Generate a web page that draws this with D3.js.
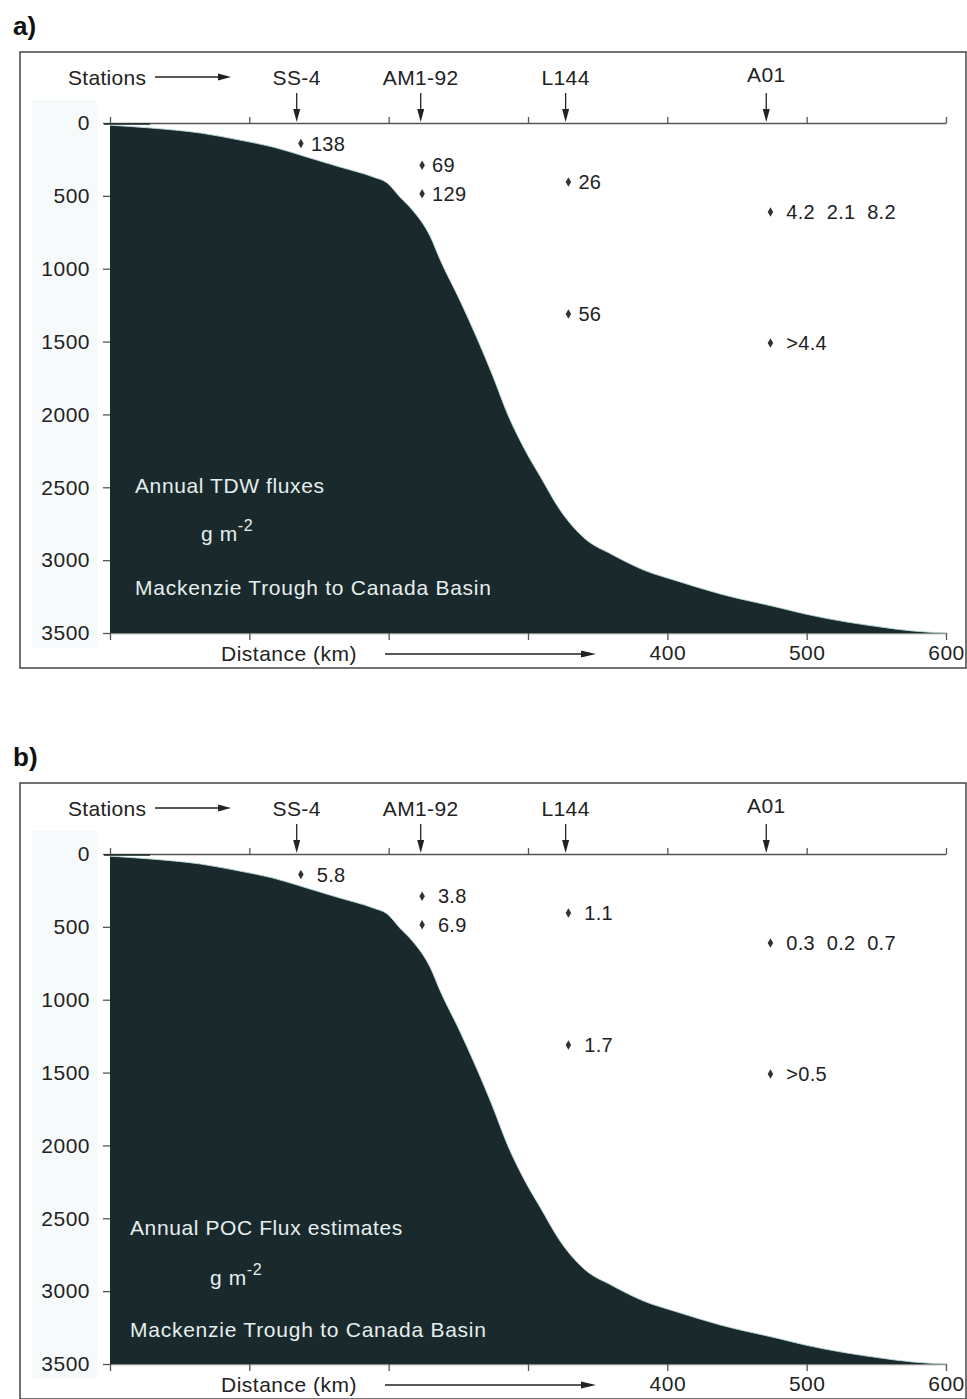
<!DOCTYPE html>
<html>
<head>
<meta charset="utf-8">
<script src="https://cdn.jsdelivr.net/npm/d3@7"></script>
<style>
  body { margin: 0; background: #fff; }
  svg { display: block; font-family: Arial, "Liberation Sans", sans-serif; }
  .pre { white-space: pre; }
</style>
</head>
<body>
<svg id="chart" width="967" height="1399"></svg>
<script>
// Bottom profile along the transect: distance (km) and water depth (m)
const profileKm    = [0, 29, 65, 93, 117, 141, 165, 189, 199, 208, 217, 230, 237, 251, 263, 275, 285, 299, 309, 323, 342, 359, 383, 407, 438, 481, 499, 529, 553, 576, 600];
const profileDepth = [15, 34, 69, 117, 165, 233, 302, 371, 412, 508, 597, 782, 940, 1215, 1469, 1743, 1990, 2265, 2429, 2656, 2862, 2955, 3068, 3143, 3232, 3328, 3370, 3425, 3459, 3486, 3500];

// Mooring stations along the section
const stationNames = ["SS-4", "AM1-92", "L144", "A01"];
const stationKm    = [134, 223, 327, 471];

// Sediment trap deployments: distance (km) and depth (m)
const sampleKm    = [137, 224, 224, 329, 329, 474, 474];
const sampleDepth = [140, 290, 485, 405, 1310, 610, 1510];

// Annual fluxes, g m-2
const tdwLabels = ["138", "69", "129", "26", "56", " 4.2  2.1  8.2", " >4.4"];
const pocLabels = [" 5.8", " 3.8", " 6.9", " 1.1", " 1.7", " 0.3  0.2  0.7", " >0.5"];

// Axis ticks
const depthTicks = [0, 500, 1000, 1500, 2000, 2500, 3000, 3500];
const distanceTicks = [0, 100, 200, 300, 400, 500, 600];
const distanceTickLabels = ["", "", "", "", "400", "500", "600"];

const svg = d3.select("#chart");
const x = d3.scaleLinear().domain([0, 600]).range([110, 946]);
const y = d3.scaleLinear().domain([0, 3500]).range([123, 633]);

const panels = [
  { tag: "a)", offset: 0, labels: tdwLabels, title: "Annual TDW fluxes",
    tx: 135, tyTitle: 493, tyUnit: 541, tyRegion: 595, unitX: 201 },
  { tag: "b)", offset: 731, labels: pocLabels, title: "Annual POC Flux estimates",
    tx: 130, tyTitle: 504, tyUnit: 554, tyRegion: 606, unitX: 210 }
];

const ink = "#222";
const axisGray = "#555";

function arrowHead(g, tipX, tipY, dir, len, half) {
  // dir: "right" or "down"
  const pts = dir === "right"
    ? [[tipX, tipY], [tipX - len, tipY - half], [tipX - len, tipY + half]]
    : [[tipX, tipY], [tipX - half, tipY - len], [tipX + half, tipY - len]];
  g.append("path").attr("d", d3.line()(pts) + "Z").attr("fill", ink);
}

panels.forEach(p => {
  const g = svg.append("g").attr("transform", `translate(0,${p.offset})`);

  // panel tag
  g.append("text").attr("x", 13).attr("y", 35)
    .attr("font-size", 26).attr("font-weight", "bold").attr("fill", "#111")
    .text(p.tag);

  // frame
  g.append("rect").attr("x", 20).attr("y", 52).attr("width", 946).attr("height", 616)
    .attr("fill", "#fff").attr("stroke", "#444").attr("stroke-width", 1.5);

  // faint band behind the depth labels
  g.append("rect").attr("x", 32).attr("y", 100).attr("width", 65).attr("height", 548)
    .attr("fill", "#f7fafa");

  // left axis (depth)
  const left = g.append("g").attr("transform", "translate(110,0)")
    .call(d3.axisLeft(y).tickValues(depthTicks).tickFormat(d3.format("d"))
      .tickSize(7).tickSizeOuter(0).tickPadding(13));
  left.select(".domain").remove();
  left.selectAll("line").attr("stroke", axisGray).attr("stroke-width", 1.3);
  left.selectAll("text").attr("font-size", 21).attr("fill", ink)
    .attr("font-family", "Arial, 'Liberation Sans', sans-serif").attr("letter-spacing", 0.5);

  // bottom axis (distance)
  const bottom = g.append("g").attr("transform", `translate(0,${y(3500)})`)
    .call(d3.axisBottom(x).tickValues(distanceTicks)
      .tickFormat((d, i) => distanceTickLabels[i])
      .tickSize(7).tickSizeOuter(0).tickPadding(5));
  bottom.select(".domain").attr("stroke", "#888").attr("stroke-width", 1.3);
  bottom.selectAll("line").attr("stroke", axisGray).attr("stroke-width", 1.3);
  bottom.selectAll("text").attr("font-size", 21).attr("fill", ink)
    .attr("font-family", "Arial, 'Liberation Sans', sans-serif").attr("letter-spacing", 0.5);

  // seafloor profile
  const pts = profileKm.map((k, i) => [k, profileDepth[i]]);
  const area = d3.area().x(d => x(d[0])).y0(y(3500)).y1(d => y(d[1])).curve(d3.curveMonotoneX);
  const edge = d3.line().x(d => x(d[0])).y(d => y(d[1])).curve(d3.curveMonotoneX);
  g.append("path").attr("d", area(pts)).attr("fill", "#1a292c");
  g.append("path").attr("d", edge(pts)).attr("fill", "none")
    .attr("stroke", "#b9d8d8").attr("stroke-width", 0.9);

  // top axis (stations)
  const top = g.append("g").attr("transform", `translate(0,${y(0)})`)
    .call(d3.axisTop(x).tickValues(distanceTicks).tickFormat("")
      .tickSize(6).tickSizeOuter(0));
  top.select(".domain").attr("stroke", axisGray).attr("stroke-width", 1.5);
  top.selectAll("line").attr("stroke", axisGray).attr("stroke-width", 1.3);
  g.append("line").attr("x1", 104).attr("x2", 150).attr("y1", y(0) + 1).attr("y2", y(0) + 1)
    .attr("stroke", "#1a292c").attr("stroke-width", 1.5);

  // "Stations" caption with arrow
  g.append("text").attr("x", 68).attr("y", 85).attr("font-size", 21)
    .attr("letter-spacing", 0.3).attr("fill", ink).text("Stations");
  g.append("line").attr("x1", 155).attr("x2", 220).attr("y1", 77).attr("y2", 77)
    .attr("stroke", ink).attr("stroke-width", 1.3);
  arrowHead(g, 231, 77, "right", 13, 3.5);

  // station names and arrows
  stationNames.forEach((name, i) => {
    const sx = x(stationKm[i]);
    g.append("text").attr("x", sx).attr("y", name === "A01" ? 82 : 85)
      .attr("text-anchor", "middle").attr("font-size", 21).attr("letter-spacing", 0.4)
      .attr("fill", ink).text(name);
    g.append("line").attr("x1", sx).attr("x2", sx).attr("y1", 93).attr("y2", 112)
      .attr("stroke", ink).attr("stroke-width", 1.3);
    arrowHead(g, sx, y(0) - 1, "down", 13, 3.5);
  });

  // trap positions with flux values
  const sym = d3.symbol().type(d3.symbolDiamond).size(26);
  sampleKm.forEach((k, i) => {
    const px = x(k), py = y(sampleDepth[i]);
    g.append("path").attr("d", sym()).attr("transform", `translate(${px},${py})`)
      .attr("fill", "#333");
    g.append("text").attr("class", "pre").attr("x", px + 10).attr("y", py)
      .attr("dy", "0.36em").attr("font-size", 20).attr("letter-spacing", 0.3)
      .attr("fill", ink).text(p.labels[i]);
  });

  // annotation inside the profile
  const light = "#e6eeee";
  g.append("text").attr("x", p.tx).attr("y", p.tyTitle).attr("font-size", 21)
    .attr("letter-spacing", 0.6).attr("fill", light).text(p.title);
  const unit = g.append("text").attr("x", p.unitX).attr("y", p.tyUnit)
    .attr("font-size", 21).attr("letter-spacing", 0.6).attr("fill", light);
  unit.append("tspan").text("g m");
  unit.append("tspan").attr("dy", -10).attr("font-size", 16).text("-2");
  g.append("text").attr("x", p.tx).attr("y", p.tyRegion).attr("font-size", 21)
    .attr("letter-spacing", 0.75).attr("fill", light).text("Mackenzie Trough to Canada Basin");

  // "Distance (km)" caption with arrow
  g.append("text").attr("x", 221).attr("y", 661).attr("font-size", 21)
    .attr("letter-spacing", 0.5).attr("fill", ink).text("Distance (km)");
  g.append("line").attr("x1", 385).attr("x2", 582).attr("y1", 654).attr("y2", 654)
    .attr("stroke", ink).attr("stroke-width", 1.3);
  arrowHead(g, 596, 654, "right", 15, 3.5);
});
</script>
</body>
</html>
